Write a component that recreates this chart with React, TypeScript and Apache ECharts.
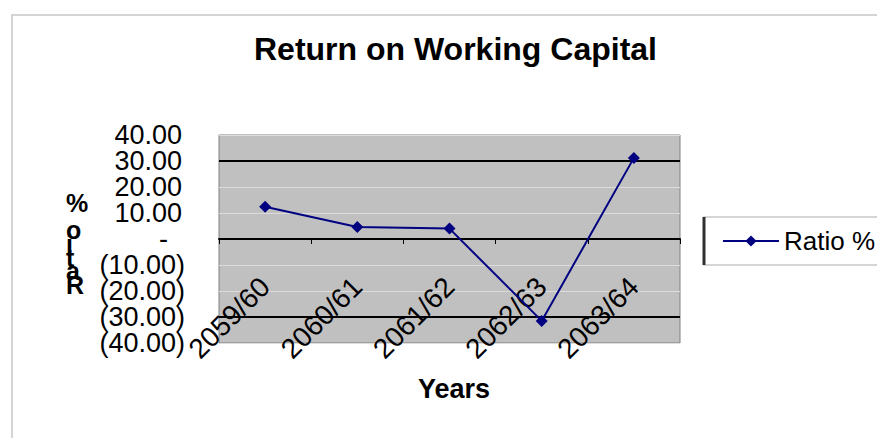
import React, { useEffect, useRef } from 'react';
import * as echarts from 'echarts';

const categories = ['2059/60', '2060/61', '2061/62', '2062/63', '2063/64'];
const ratioValues = [12.4, 4.6, 4.0, -31.5, 31.2];
const yTicks = [-40, -30, -20, -10, 0, 10, 20, 30, 40];
const yTickLabels = ['(40.00)', '(30.00)', '(20.00)', '(10.00)', '-', '10.00', '20.00', '30.00', '40.00'];
const darkRefLines = [30, -30];
const seriesName = 'Ratio %';
const titleText = 'Return on Working Capital';
const xAxisTitle = 'Years';
const yAxisTitleStacked = ['%', ' ', 'o', 'i', 't', 'a', 'R'];

const FONT = "'Liberation Sans', Arial, sans-serif";
const GRID_HEIGHT = 208;

const fmtLabel = (v: number) => {
  const r = Math.round(v);
  const i = yTicks.indexOf(r);
  const s = i >= 0 ? yTickLabels[i] : String(v);
  if (r === 0) return '{z|' + s + '}';
  if (r > 0) return '{p|' + s + '}';
  return '{n|' + s + '}';
};

const richStyles = {
  z: { padding: [0, 17, 0, 0], fontSize: 27, lineHeight: 18, fontFamily: FONT, color: '#000' },
  p: { padding: [0, 3, 0, 0], fontSize: 27, lineHeight: 18, fontFamily: FONT, color: '#000' },
  n: { fontSize: 27, lineHeight: 18, fontFamily: FONT, color: '#000' },
};

const yAxisBase = {
  type: 'value',
  min: -40,
  max: 40,
  interval: 10,
  position: 'left',
  offset: 0,
  axisLine: { show: false },
  axisTick: { show: false },
};

export default function App() {
  const ref = useRef<HTMLDivElement>(null);
  useEffect(() => {
    const chart = echarts.init(ref.current!, null, { renderer: 'svg' });
    chart.setOption({
      animation: false,
      backgroundColor: '#ffffff',
      title: {
        text: titleText,
        left: 254,
        top: 33,
        padding: 0,
        textStyle: { fontSize: 32, fontWeight: 'bold', fontFamily: FONT, color: '#000' },
      },
      grid: {
        left: 219,
        top: 135,
        width: 461,
        height: GRID_HEIGHT,
        show: true,
        backgroundColor: '#c0c0c0',
        borderColor: '#808080',
        borderWidth: 1,
        containLabel: false,
        outerBoundsMode: 'none',
      },
      legend: {
        data: [seriesName],
        left: 722,
        top: 228,
        padding: 0,
        itemWidth: 56,
        itemHeight: 14,
        textStyle: { fontSize: 26, color: '#000', fontFamily: FONT },
      },
      xAxis: {
        type: 'category',
        data: categories,
        boundaryGap: true,
        offset: -GRID_HEIGHT / 2,
        axisLine: { onZero: false, lineStyle: { color: '#000', width: 2 } },
        axisTick: { show: true, length: 5, lineStyle: { color: '#000', width: 1 } },
        axisLabel: {
          rotate: 45,
          interval: 0,
          margin: 43,
          fontSize: 28,
          color: '#000',
          fontFamily: FONT,
        },
        splitLine: { show: false },
      },
      yAxis: [
        {
          ...yAxisBase,
          splitLine: { lineStyle: { color: '#dcdcdc', width: 1 } },
          axisLabel: {
            margin: 34,
            color: '#000',
            fontSize: 27,
            lineHeight: 18,
            fontFamily: FONT,
            showMinLabel: true,
            showMaxLabel: true,
            hideOverlap: false,
            formatter: (v: number) => (Math.abs(Math.round(v)) === 30 ? '' : fmtLabel(v)),
            rich: richStyles,
          },
        },
        {
          ...yAxisBase,
          splitLine: { show: false },
          axisLabel: {
            margin: 34,
            color: '#000',
            fontSize: 27,
            lineHeight: 18,
            fontFamily: FONT,
            showMinLabel: false,
            showMaxLabel: false,
            hideOverlap: false,
            formatter: (v: number) => (Math.abs(Math.round(v)) === 30 ? fmtLabel(v) : ''),
            rich: richStyles,
          },
        },
      ],
      series: [
        {
          name: seriesName,
          type: 'line',
          yAxisIndex: 0,
          data: ratioValues,
          color: '#000080',
          lineStyle: { color: '#000080', width: 2 },
          itemStyle: { color: '#000080' },
          symbol: 'diamond',
          symbolSize: 12,
          z: 5,
          markLine: {
            silent: true,
            symbol: ['none', 'none'],
            label: { show: false },
            lineStyle: { color: '#000', width: 2, type: 'solid' },
            data: darkRefLines.map((v) => ({ yAxis: v })),
          },
        },
      ],
      graphic: [
        {
          type: 'rect',
          shape: { x: 12, y: 15, width: 900, height: 500 },
          style: { fill: 'none', stroke: '#d4d4d4', lineWidth: 2 },
          silent: true,
        },
        {
          type: 'rect',
          shape: { x: 704, y: 217, width: 200, height: 48 },
          style: { fill: 'none', stroke: '#c8c8c8', lineWidth: 1.5 },
          silent: true,
        },
        {
          type: 'line',
          shape: { x1: 704, y1: 217, x2: 704, y2: 265 },
          style: { stroke: '#303030', lineWidth: 3 },
          silent: true,
        },
        {
          type: 'text',
          x: 66,
          y: 196,
          style: {
            text: yAxisTitleStacked.join('\n'),
            font: "bold 25px 'Liberation Sans', Arial, sans-serif",
            lineHeight: 13.7,
            fill: '#000',
            align: 'left',
            verticalAlign: 'top',
          },
        },
        {
          type: 'text',
          x: 454,
          y: 389,
          style: {
            text: xAxisTitle,
            font: "bold 27px 'Liberation Sans', Arial, sans-serif",
            fill: '#000',
            align: 'center',
            verticalAlign: 'middle',
          },
        },
      ],
    });
    return () => chart.dispose();
  }, []);
  return (
    <div
      ref={ref}
      style={{ position: 'absolute', left: 0, top: 0, width: 877, height: 438 }}
    />
  );
}
